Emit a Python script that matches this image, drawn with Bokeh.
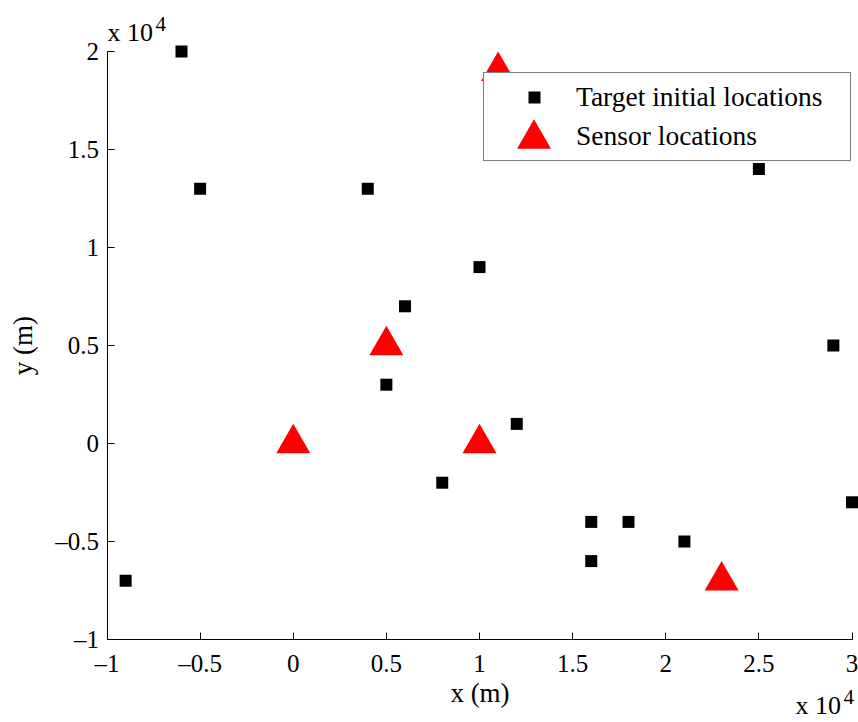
from bokeh.plotting import figure
from bokeh.models import (Range1d, FixedTicker, CustomJSTickFormatter, Legend,
                          LegendItem, Label, ColumnDataSource)
from bokeh.embed import file_html
from bokeh.resources import INLINE

# Target initial locations (m)
target_x = [-6000, -5000, 4000, 10000, 6000, 5000, 12000, 8000,
            16000, 18000, 16000, 21000, 25000, 29000, 30000, -9000]
target_y = [20000, 13000, 13000, 9000, 7000, 3000, 1000, -2000,
            -4000, -4000, -6000, -5000, 14000, 5000, -3000, -7000]

# Sensor locations (m)
sensor_x = [11000, 5000, 0, 10000, 23000]
sensor_y = [19000, 5000, 0, 0, -7000]

x_ticks = [-10000, -5000, 0, 5000, 10000, 15000, 20000, 25000, 30000]
y_ticks = [-10000, -5000, 0, 5000, 10000, 15000, 20000]
x_lim = (-10000, 30000)
y_lim = (-10000, 20000)

W, H = 858, 722
# axes box inside the canvas (pixels)
AX_L, AX_R, AX_T, AX_B = 106.5, 851.5, 51.0, 639.0

FONT = "Liberation Serif"

# The frame fills the whole canvas so that markers and the
# multiplier notes at the edges are never clipped; the axes are
# pinned to the lower/left data limits.
kx = (AX_R - AX_L) / (x_lim[1] - x_lim[0])
ky = (AX_B - AX_T) / (y_lim[1] - y_lim[0])
x_range = Range1d(x_lim[0] - AX_L / kx, x_lim[0] + (W - AX_L) / kx)
y_range = Range1d(y_lim[1] - (H - AX_T) / ky, y_lim[1] + AX_T / ky)

p = figure(width=W, height=H, x_range=x_range, y_range=y_range,
           output_backend="svg", toolbar_location=None,
           min_border=0)
p.outline_line_color = None
p.grid.visible = False
p.background_fill_color = "white"
p.border_fill_color = "white"

fmt = CustomJSTickFormatter(code="return (tick / 1e4).toString().replace('-', '\u2013');")

for ax, ticks, other, lim in ((p.xaxis[0], x_ticks, y_lim, x_lim),
                              (p.yaxis[0], y_ticks, x_lim, y_lim)):
    ax.fixed_location = other[0]
    ax.bounds = lim
    ax.ticker = FixedTicker(ticks=ticks)
    ax.formatter = fmt
    ax.major_tick_in = 7
    ax.major_tick_out = 0
    ax.minor_tick_line_color = None
    ax.axis_line_color = "black"
    ax.major_tick_line_color = "black"
    ax.major_label_text_font = FONT
    ax.major_label_text_font_size = "25px"
    ax.major_label_text_color = "black"
    ax.axis_label_text_font = FONT
    ax.axis_label_text_font_size = "27px"
    ax.axis_label_text_font_style = "normal"
    ax.axis_label_text_color = "black"

p.xaxis.axis_label = "x (m)"
p.yaxis.axis_label = "y (m)"
p.xaxis.major_label_standoff = 10
p.yaxis.major_label_standoff = 8
p.xaxis.axis_label_standoff = -2
p.yaxis.axis_label_standoff = 15

tsrc = ColumnDataSource(dict(x=target_x, y=target_y))
ssrc = ColumnDataSource(dict(x=sensor_x, y=sensor_y))

targets = p.scatter("x", "y", source=tsrc, marker="square", size=12,
                    fill_color="black", line_color="black", line_width=0)
sensors = p.scatter("x", "y", source=ssrc, marker="triangle", size=34,
                    fill_color="#ff0000", line_color="#ff0000", line_width=0)

# Legend frame with both entries (small keys)
legend = Legend(items=[LegendItem(label="Target initial locations", renderers=[targets]),
                       LegendItem(label="Sensor locations", renderers=[sensors])],
                location=(483, H - 161), orientation="vertical",
                padding=8, spacing=7, margin=0,
                glyph_width=84, glyph_height=30, label_height=30,
                label_width=266, label_standoff=0,
                label_text_font=FONT, label_text_font_size="27.5px",
                label_text_color="black",
                border_line_color="black", border_line_width=1,
                background_fill_color="white", background_fill_alpha=1.0)
p.add_layout(legend)

# Full-size sensor key drawn over the small one
sensor_key = Legend(items=[LegendItem(label=" ", renderers=[sensors])],
                    location=(490.5, H - 180.5), orientation="vertical",
                    padding=0, spacing=0, margin=0,
                    glyph_width=85, glyph_height=85, label_height=85,
                    label_width=1, label_standoff=0,
                    label_text_font_size="1px",
                    border_line_color=None, background_fill_alpha=0.0)
p.add_layout(sensor_key)

# "x 10^4" multiplier notes
def multiplier(px, py):
    p.add_layout(Label(x=px, y=H - py, x_units="screen", y_units="screen",
                       text="x 10", text_baseline="alphabetic",
                       text_font=FONT, text_font_size="26px", text_color="black"))
    p.add_layout(Label(x=px + 48, y=H - py + 9, x_units="screen", y_units="screen",
                       text="4", text_baseline="alphabetic",
                       text_font=FONT, text_font_size="21px", text_color="black"))

multiplier(107, 32)
multiplier(795, 705)

open("out.html", "w").write(file_html(p, INLINE))
